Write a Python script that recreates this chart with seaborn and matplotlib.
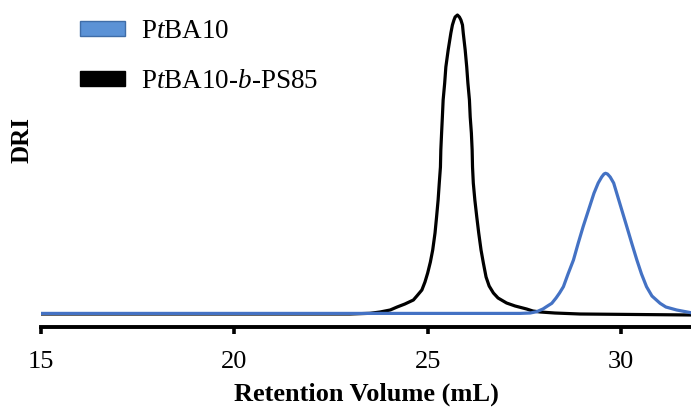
import matplotlib
matplotlib.use("Agg")
import matplotlib.pyplot as plt
from matplotlib.patches import Patch
import seaborn as sns
import pandas as pd

# GPC traces (retention volume in mL, normalised DRI response)
ptba_volume = [15.0, 20.0, 25.0, 27.39, 27.65, 27.82, 27.98, 28.10, 28.21, 28.32,
               28.41, 28.51, 28.63, 28.77, 28.89, 29.02, 29.16, 29.30, 29.41, 29.50,
               29.56, 29.60, 29.65, 29.72, 29.81, 29.89, 30.02, 30.15, 30.28, 30.41,
               30.53, 30.66, 30.80, 31.01, 31.16, 31.44, 31.81]
ptba_signal = [0.002, 0.002, 0.002, 0.002, 0.0033, 0.0077, 0.0167, 0.0268, 0.0358, 0.0535,
               0.0702, 0.0913, 0.1338, 0.1806, 0.2355, 0.2920, 0.3478, 0.4037, 0.4381, 0.4582,
               0.4682, 0.4706, 0.4682, 0.4582, 0.4381, 0.4037, 0.3478, 0.2920, 0.2355, 0.1806,
               0.1338, 0.0913, 0.0602, 0.0358, 0.0234, 0.0134, 0.0043]

block_volume = [15.0, 22.99, 23.51, 23.77, 24.03, 24.21, 24.41, 24.63, 24.72, 24.85,
                24.93, 25.00, 25.07, 25.13, 25.19, 25.23, 25.27, 25.30, 25.33, 25.34,
                25.36, 25.38, 25.40, 25.44, 25.47, 25.53, 25.60, 25.64, 25.68, 25.71,
                25.77, 25.82, 25.86, 25.90, 25.92, 25.97, 26.01, 26.04, 26.08, 26.10,
                26.13, 26.15, 26.16, 26.18, 26.22, 26.27, 26.32, 26.38, 26.44, 26.51,
                26.59, 26.70, 26.82, 27.04, 27.26, 27.56, 27.72, 27.91, 28.29, 28.94,
                31.81]
block_signal = [0.0, 0.0, 0.0023, 0.0067, 0.0134, 0.0234, 0.0334, 0.0468, 0.0602, 0.0803,
                0.1070, 0.1371, 0.1739, 0.2140, 0.2709, 0.3244, 0.3813, 0.4381, 0.4916, 0.5485,
                0.6054, 0.6589, 0.7157, 0.7726, 0.8261, 0.8829, 0.9398, 0.9666, 0.9833, 0.9933,
                1.0, 0.9933, 0.9833, 0.9666, 0.9398, 0.8829, 0.8261, 0.7726, 0.7157, 0.6589,
                0.6054, 0.5485, 0.4916, 0.4381, 0.3813, 0.3244, 0.2709, 0.2140, 0.1706, 0.1237,
                0.0936, 0.0702, 0.0535, 0.0368, 0.0268, 0.0167, 0.0100, 0.0067, 0.0033, 0.0,
                -0.0033]

series_names = ["P$\\mathit{t}$BA10", "P$\\mathit{t}$BA10-$\\mathit{b}$-PS85"]
x_ticks = [15, 20, 25, 30]

sns.set_style("white")
plt.rcParams["font.family"] = ["Liberation Serif", "DejaVu Serif"]
plt.rcParams["mathtext.fontset"] = "custom"
plt.rcParams["mathtext.rm"] = "Liberation Serif"
plt.rcParams["mathtext.it"] = "Liberation Serif:italic"
plt.rcParams["mathtext.bf"] = "Liberation Serif:bold"
plt.rcParams["text.color"] = "black"
plt.rcParams["axes.labelcolor"] = "black"
plt.rcParams["xtick.color"] = "black"

blue = "#4472C4"

fig = plt.figure(figsize=(6.91, 4.11), dpi=100)
ax = fig.add_axes([41 / 691, 84 / 411, 650 / 691, 327 / 411])

df_block = pd.DataFrame({"volume": block_volume, "signal": block_signal})
df_ptba = pd.DataFrame({"volume": ptba_volume, "signal": ptba_signal})
sns.lineplot(data=df_block, x="volume", y="signal", color="black", lw=2.3,
             sort=False, ax=ax, solid_joinstyle="round")
sns.lineplot(data=df_ptba, x="volume", y="signal", color=blue, lw=2.3,
             sort=False, ax=ax, solid_joinstyle="round")

ax.set_xlim(15, 31.81)
ax.set_ylim(-13 / 299, 314 / 299)
ax.set_xticks(x_ticks)
ax.set_yticks([])
for side in ["left", "right", "top"]:
    ax.spines[side].set_visible(False)
ax.spines["bottom"].set_linewidth(2.8)
ax.spines["bottom"].set_color("black")
ax.tick_params(axis="x", direction="out", length=5, width=2.6, color="black",
               labelcolor="black", labelsize=19, pad=12, bottom=True)
ax.set_xlabel("Retention Volume (mL)", fontsize=19, fontweight="bold", labelpad=7,
              color="black")
ax.set_ylabel("DRI", fontsize=18, fontweight="bold", va="center", color="black")
ax.yaxis.set_label_coords(-19 / 650, (327 - 140) / 327)

handles = [Patch(facecolor="#5B92D6", edgecolor="#3F6DA8", lw=1.0),
           Patch(facecolor="black", edgecolor="black", lw=1.0)]
leg = ax.legend(handles, series_names, loc="upper left",
                bbox_to_anchor=(39 / 650, 1 - 19 / 327), frameon=False,
                fontsize=19.5, handlelength=1.65, handleheight=0.45,
                handletextpad=0.62, labelspacing=0.92, borderaxespad=0,
                borderpad=0, labelcolor="black")

fig.savefig("out.png", dpi=100, facecolor="white")
